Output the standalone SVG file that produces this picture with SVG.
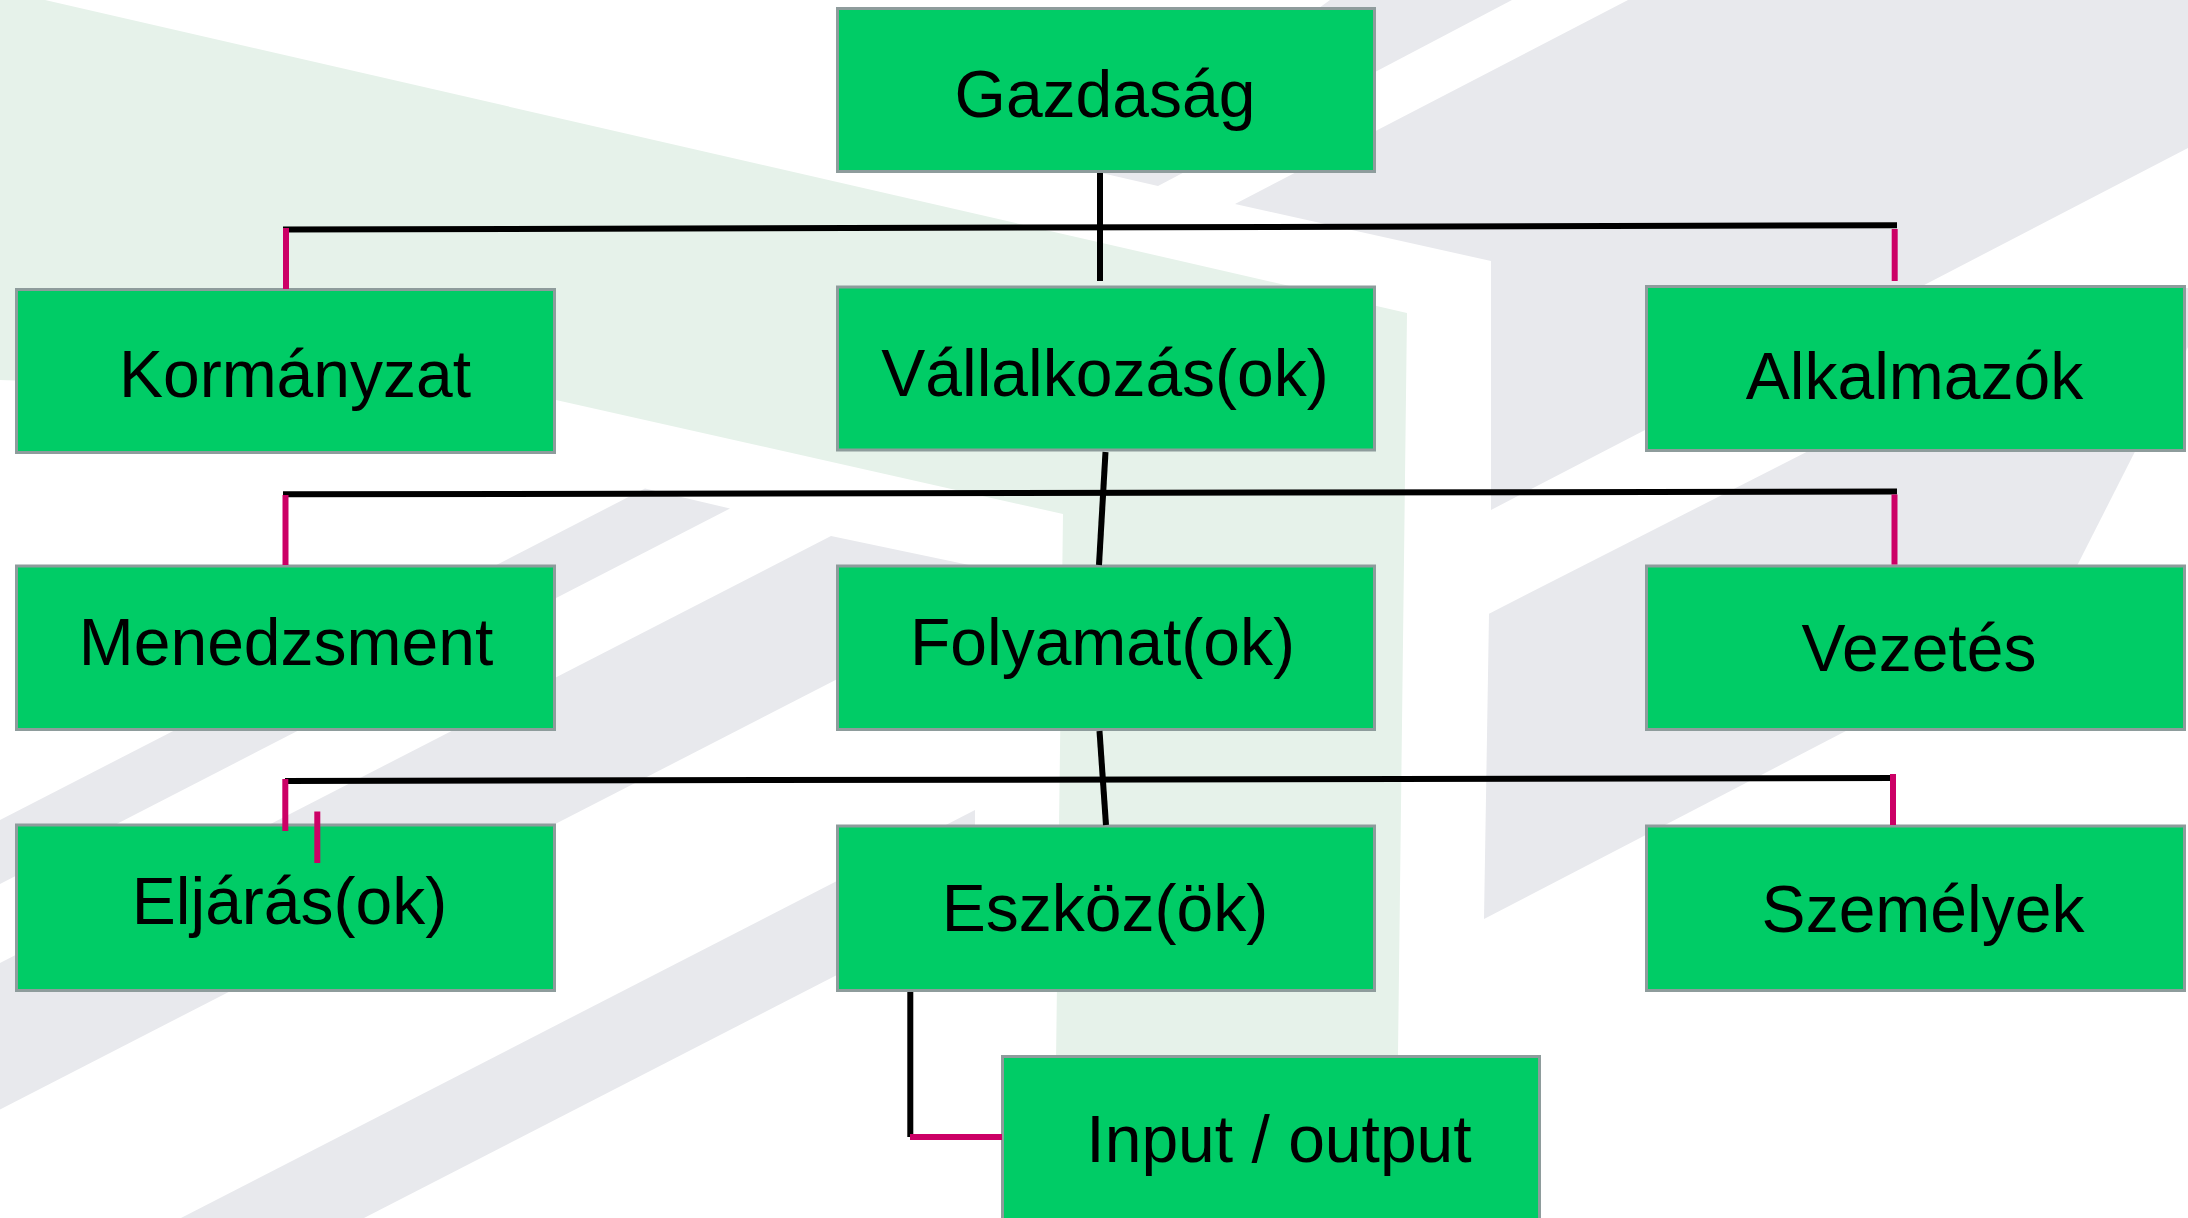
<svg xmlns="http://www.w3.org/2000/svg" width="2188" height="1218" viewBox="0 0 2188 1218">
  <style>
    .bg-green { fill: #E6F2EA; }
    .bg-gray { fill: #E8E9ED; }
    .box { fill: #00CC66; stroke: #8E9C9C; stroke-width: 3; }
    .label { font-family: "Liberation Sans", Arial, sans-serif; font-size: 66px; fill: #000000; text-anchor: middle; }
    .link { stroke: #000000; stroke-width: 6; fill: none; }
    .tie { stroke: #CC0066; stroke-width: 6; fill: none; }
  </style>

  <!-- page background with faint logo stripes -->
  <rect x="0" y="0" width="2188" height="1218" fill="#FFFFFF"/>
  <g id="backdrop">
    <polygon class="bg-green" points="0,0 45,0 1407,313 1396,1218 1054,1218 1063,514 556,400 0,380"/>
    <polygon class="bg-gray" points="1330,0 1512,0 1158,186 1095,171.5"/>
    <polygon class="bg-gray" points="1628,0 2188,0 2188,148 1491,510 1491,261 1235,204"/>
    <polygon class="bg-gray" points="1489,613.7 2128,288 2188,288 2188,347 2046,627 1484,919"/>
    <polygon class="bg-gray" points="0,820 645,488.5 730,508.5 0,884"/>
    <polygon class="bg-gray" points="0,963 831,536 1033,578.5 0,1109.5"/>
    <polygon class="bg-gray" points="181,1218 975,810 975,904 364,1218"/>
  </g>

  <!-- nodes -->
  <g id="node-gazdasag">
    <rect class="box" x="837.5" y="8.5" width="537" height="163"/>
    <text class="label" x="1105" y="116.5">Gazdaság</text>
  </g>
  <g id="node-kormanyzat">
    <rect class="box" x="16.5" y="289.5" width="538" height="163"/>
    <text class="label" x="295" y="396.5">Kormányzat</text>
  </g>
  <g id="node-vallalkozas">
    <rect class="box" x="837.5" y="287" width="537" height="163"/>
    <text class="label" x="1105" y="395.5">Vállalkozás(ok)</text>
  </g>
  <g id="node-alkalmazok">
    <rect class="box" x="1646.5" y="286.5" width="538" height="164"/>
    <text class="label" x="1914.5" y="399">Alkalmazók</text>
  </g>
  <g id="node-menedzsment">
    <rect class="box" x="16.5" y="566" width="538" height="163.5"/>
    <text class="label" x="286" y="664.5">Menedzsment</text>
  </g>
  <g id="node-folyamat">
    <rect class="box" x="837.5" y="566" width="537" height="163.5"/>
    <text class="label" x="1102.5" y="665">Folyamat(ok)</text>
  </g>
  <g id="node-vezetes">
    <rect class="box" x="1646.5" y="566" width="538" height="163.5"/>
    <text class="label" x="1919" y="670.5">Vezetés</text>
  </g>
  <g id="node-eljaras">
    <rect class="box" x="16.5" y="825" width="538" height="165.5"/>
    <text class="label" x="289.5" y="923.5">Eljárás(ok)</text>
  </g>
  <g id="node-eszkoz">
    <rect class="box" x="837.5" y="826" width="537" height="164.5"/>
    <text class="label" x="1105" y="931">Eszköz(ök)</text>
  </g>
  <g id="node-szemelyek">
    <rect class="box" x="1646.5" y="826" width="538" height="164.5"/>
    <text class="label" x="1923" y="931.5">Személyek</text>
  </g>
  <g id="node-input-output">
    <rect class="box" x="1002.5" y="1056.5" width="537" height="170"/>
    <text class="label" x="1279" y="1162">Input / output</text>
  </g>

  <!-- connectors -->
  <g id="connectors">
    <line class="link" x1="1100" y1="173" x2="1100" y2="281"/>
    <line class="link" x1="283" y1="229.5" x2="1897" y2="225.3"/>
    <line class="tie" x1="286" y1="228" x2="286" y2="289"/>
    <line class="tie" x1="1894.7" y1="229" x2="1894.7" y2="281"/>

    <line class="link" x1="1105.5" y1="452" x2="1099" y2="565"/>
    <line class="link" x1="283" y1="494.3" x2="1897" y2="491.5"/>
    <line class="tie" x1="285.5" y1="495" x2="285.5" y2="565"/>
    <line class="tie" x1="1894.5" y1="494.5" x2="1894.5" y2="564.5"/>

    <line class="link" x1="1099.5" y1="731" x2="1106" y2="825"/>
    <line class="link" x1="285" y1="781" x2="1895" y2="778"/>
    <line class="tie" x1="285.3" y1="779" x2="285.3" y2="831"/>
    <line class="tie" x1="317.3" y1="811.5" x2="317.3" y2="863"/>
    <line class="tie" x1="1893" y1="774" x2="1893" y2="825"/>

    <line class="link" x1="910.3" y1="992" x2="910.3" y2="1137"/>
    <line class="tie" x1="910" y1="1137" x2="1002" y2="1137"/>
  </g>
</svg>
